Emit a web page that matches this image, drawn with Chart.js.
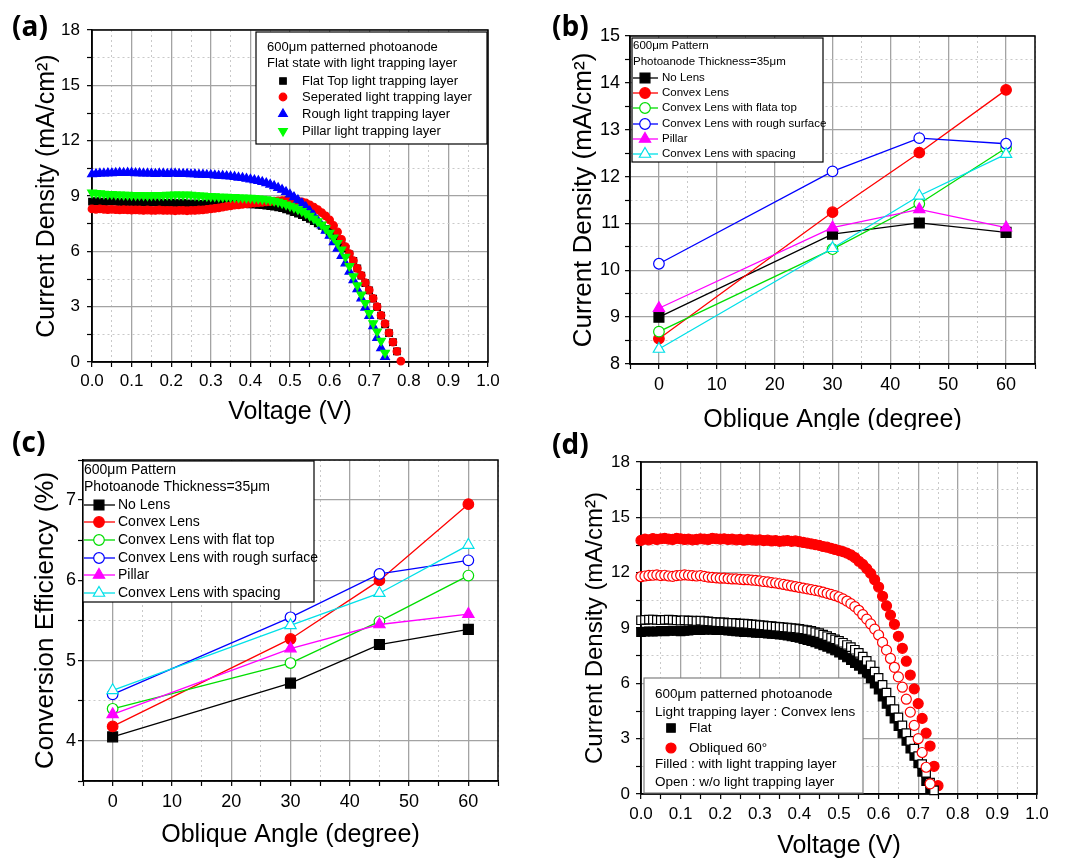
<!DOCTYPE html>
<html>
<head>
<meta charset="utf-8">
<script src="https://cdn.jsdelivr.net/npm/chart.js@4.4.1/dist/chart.umd.min.js"></script>
<style>
  body { margin: 0; background: #fff; }
  #page { position: relative; width: 1083px; height: 860px; overflow: hidden; }
  canvas { position: absolute; }
  .tag { position: absolute; font-family: "Open Sans", sans-serif; font-weight: 700; font-size: 28px; line-height: 1; color: #000; }
</style>
</head>
<body>
<div id="page">
  <canvas id="chartA" width="540" height="430" style="left:0;top:0"></canvas>
  <canvas id="chartB" width="543" height="430" style="left:540px;top:0"></canvas>
  <canvas id="chartC" width="540" height="430" style="left:0;top:430px"></canvas>
  <canvas id="chartD" width="543" height="430" style="left:540px;top:430px"></canvas>
  <div class="tag" style="left:12px;top:11px">(a)</div>
  <div class="tag" style="left:552px;top:11px">(b)</div>
  <div class="tag" style="left:12px;top:427px">(c)</div>
  <div class="tag" style="left:552px;top:429px">(d)</div>
</div>
<script>
const FONT = '"Liberation Sans", Arial, sans-serif';

// ---- data: J-V curves (a) and (d), voltage in V, current density in mA/cm2
const voltage = [0.00, 0.01, 0.02, 0.03, 0.04, 0.05, 0.06, 0.07, 0.08, 0.09,
  0.10, 0.11, 0.12, 0.13, 0.14, 0.15, 0.16, 0.17, 0.18, 0.19,
  0.20, 0.21, 0.22, 0.23, 0.24, 0.25, 0.26, 0.27, 0.28, 0.29,
  0.30, 0.31, 0.32, 0.33, 0.34, 0.35, 0.36, 0.37, 0.38, 0.39,
  0.40, 0.41, 0.42, 0.43, 0.44, 0.45, 0.46, 0.47, 0.48, 0.49,
  0.50, 0.51, 0.52, 0.53, 0.54, 0.55, 0.56, 0.57, 0.58, 0.59,
  0.60, 0.61, 0.62, 0.63, 0.64, 0.65, 0.66, 0.67, 0.68, 0.69,
  0.70, 0.71, 0.72, 0.73, 0.74, 0.75, 0.76, 0.77, 0.78];

const flatTopA = [8.70, 8.72, 8.70, 8.68, 8.70, 8.72, 8.70, 8.68, 8.66, 8.68,
  8.68, 8.66, 8.65, 8.66, 8.64, 8.65, 8.66, 8.64, 8.62, 8.63,
  8.64, 8.62, 8.60, 8.62, 8.60, 8.58, 8.60, 8.58, 8.58, 8.60,
  8.60, 8.62, 8.60, 8.62, 8.62, 8.60, 8.60, 8.58, 8.58, 8.56,
  8.55, 8.54, 8.52, 8.50, 8.48, 8.45, 8.42, 8.38, 8.34, 8.28,
  8.20, 8.12, 8.04, 7.96, 7.86, 7.76, 7.64, 7.52, 7.38, 7.22,
  7.05, 6.85, 6.64, 6.40, 6.14, 5.84, 5.48, 5.08, 4.68, 4.28,
  3.88, 3.44, 2.98, 2.52, 2.04, 1.56, 1.08, 0.58];

const separatedA = [8.30, 8.28, 8.30, 8.28, 8.26, 8.28, 8.26, 8.25, 8.26, 8.25,
  8.24, 8.25, 8.24, 8.22, 8.24, 8.22, 8.22, 8.24, 8.22, 8.22,
  8.22, 8.20, 8.22, 8.22, 8.20, 8.22, 8.22, 8.24, 8.25, 8.28,
  8.30, 8.33, 8.36, 8.40, 8.44, 8.47, 8.50, 8.52, 8.55, 8.57,
  8.60, 8.62, 8.64, 8.66, 8.68, 8.70, 8.72, 8.74, 8.75, 8.76,
  8.76, 8.74, 8.72, 8.68, 8.62, 8.52, 8.40, 8.26, 8.10, 7.92,
  7.70, 7.40, 7.05, 6.65, 6.26, 5.88, 5.50, 5.08, 4.70, 4.30,
  3.90, 3.45, 3.00, 2.53, 2.08, 1.58, 1.08, 0.58, 0.05];

const roughA = [10.18, 10.20, 10.22, 10.22, 10.24, 10.24, 10.25, 10.26, 10.25, 10.26,
  10.26, 10.24, 10.24, 10.22, 10.22, 10.22, 10.20, 10.22, 10.22, 10.20,
  10.22, 10.22, 10.20, 10.20, 10.20, 10.18, 10.18, 10.16, 10.16, 10.14,
  10.14, 10.12, 10.10, 10.10, 10.08, 10.06, 10.04, 10.00, 9.98, 9.94,
  9.90, 9.86, 9.82, 9.76, 9.70, 9.62, 9.54, 9.44, 9.34, 9.22,
  9.08, 8.94, 8.78, 8.60, 8.40, 8.18, 7.94, 7.68, 7.40, 7.12,
  6.85, 6.50, 6.15, 5.75, 5.35, 4.90, 4.44, 3.95, 3.45, 2.95,
  2.50, 1.95, 1.30, 0.75, 0.27];

const pillarA = [9.18, 9.16, 9.14, 9.12, 9.10, 9.10, 9.08, 9.08, 9.06, 9.06,
  9.05, 9.04, 9.05, 9.04, 9.03, 9.04, 9.05, 9.04, 9.05, 9.06,
  9.06, 9.08, 9.08, 9.06, 9.08, 9.06, 9.04, 9.02, 9.02, 9.00,
  8.98, 8.98, 8.96, 8.96, 8.95, 8.94, 8.94, 8.92, 8.92, 8.90,
  8.90, 8.88, 8.86, 8.84, 8.82, 8.78, 8.74, 8.68, 8.62, 8.54,
  8.46, 8.38, 8.28, 8.18, 8.06, 7.92, 7.78, 7.62, 7.45, 7.24,
  7.00, 6.75, 6.45, 6.10, 5.70, 5.20, 4.65, 4.15, 3.65, 3.20,
  2.65, 2.10, 1.65, 1.15, 0.50];

const flatFilledD = [8.78, 8.80, 8.82, 8.80, 8.82, 8.84, 8.82, 8.84, 8.86, 8.84,
  8.82, 8.84, 8.86, 8.88, 8.90, 8.88, 8.90, 8.92, 8.90, 8.88,
  8.90, 8.88, 8.86, 8.84, 8.82, 8.80, 8.78, 8.78, 8.76, 8.74,
  8.74, 8.72, 8.70, 8.68, 8.66, 8.64, 8.62, 8.58, 8.54, 8.50,
  8.46, 8.40, 8.34, 8.28, 8.22, 8.14, 8.06, 7.98, 7.88, 7.78,
  7.66, 7.54, 7.40, 7.26, 7.10, 6.95, 6.75, 6.52, 6.27, 5.98,
  5.66, 5.28, 4.88, 4.48, 4.08, 3.68, 3.28, 2.88, 2.46, 2.06,
  1.66, 1.20, 0.70, 0.30];

const obliqueFilledD = [13.75, 13.82, 13.78, 13.85, 13.80, 13.84, 13.86, 13.82, 13.80, 13.86,
  13.84, 13.80, 13.82, 13.78, 13.80, 13.84, 13.82, 13.80, 13.86, 13.84,
  13.82, 13.84, 13.80, 13.82, 13.78, 13.80, 13.76, 13.80, 13.78, 13.76,
  13.78, 13.74, 13.76, 13.72, 13.74, 13.70, 13.72, 13.74, 13.70, 13.72,
  13.68, 13.64, 13.60, 13.56, 13.52, 13.48, 13.42, 13.38, 13.32, 13.26,
  13.20, 13.14, 13.06, 12.96, 12.82, 12.62, 12.45, 12.22, 11.96, 11.62,
  11.22, 10.72, 10.20, 9.70, 9.20, 8.55, 7.90, 7.20, 6.45, 5.70,
  4.90, 4.10, 3.30, 2.60, 1.50, 0.45];

const flatOpenD = [9.42, 9.44, 9.45, 9.46, 9.44, 9.42, 9.44, 9.45, 9.44, 9.42,
  9.40, 9.42, 9.40, 9.40, 9.38, 9.40, 9.38, 9.36, 9.34, 9.32,
  9.30, 9.30, 9.28, 9.28, 9.26, 9.24, 9.24, 9.22, 9.20, 9.18,
  9.16, 9.14, 9.12, 9.10, 9.08, 9.06, 9.04, 9.02, 9.00, 8.98,
  8.95, 8.92, 8.88, 8.84, 8.78, 8.72, 8.64, 8.56, 8.46, 8.38,
  8.30, 8.20, 8.08, 7.96, 7.82, 7.65, 7.45, 7.22, 6.98, 6.64,
  6.30, 5.92, 5.50, 5.05, 4.60, 4.15, 3.72, 3.30, 2.88, 2.46,
  2.05, 1.62, 1.15, 0.62, 0.20];

const obliqueOpenD = [11.78, 11.82, 11.85, 11.86, 11.88, 11.84, 11.86, 11.82, 11.80, 11.84,
  11.86, 11.88, 11.86, 11.84, 11.82, 11.84, 11.80, 11.76, 11.74, 11.72,
  11.70, 11.70, 11.68, 11.66, 11.66, 11.64, 11.62, 11.62, 11.60, 11.58,
  11.56, 11.52, 11.50, 11.46, 11.44, 11.40, 11.36, 11.32, 11.28, 11.24,
  11.20, 11.16, 11.12, 11.08, 11.04, 11.00, 10.94, 10.88, 10.82, 10.76,
  10.68, 10.58, 10.46, 10.32, 10.16, 9.96, 9.72, 9.48, 9.22, 8.94,
  8.62, 8.22, 7.80, 7.35, 6.87, 6.35, 5.79, 5.14, 4.44, 3.72,
  3.00, 2.25, 1.45, 0.55];

// ---- data: oblique angle (degree) vs Jsc (b) and efficiency (c)
const angles = [0, 30, 45, 60];
const jscNoLens = [9.00, 10.77, 11.01, 10.81];
const jscConvex = [8.54, 11.24, 12.51, 13.85];
const jscFlatTop = [8.69, 10.45, 11.42, 12.61];
const jscRough = [10.14, 12.11, 12.82, 12.70];
const jscPillar = [9.19, 10.91, 11.30, 10.91];
const jscSpacing = [8.32, 10.47, 11.59, 12.48];

const effNoLens = [4.05, 4.72, 5.20, 5.39];
const effConvex = [4.18, 5.27, 6.00, 6.95];
const effFlatTop = [4.40, 4.97, 5.49, 6.06];
const effRough = [4.58, 5.54, 6.08, 6.25];
const effPillar = [4.33, 5.15, 5.45, 5.58];
const effSpacing = [4.63, 5.44, 5.84, 6.44];

const voltTicks = v => Math.round(v * 100) % 10 === 0;
const jTicks = v => Math.round(v * 10) % 30 === 0;
const angleTicks = v => v >= 0 && v <= 60 && v % 10 === 0;
const intTicks = v => Math.abs(v - Math.round(v)) < 1e-6;

function pts(xs, ys) {
  return ys.map((y, i) => ({ x: xs[i], y: y }));
}

function axis(o) {
  const major = o.major;
  const isMaj = c => !c.tick || major(c.tick.value);
  return {
    type: 'linear', min: o.min, max: o.max,
    afterFit(s) { if (s.isHorizontal()) s.height = o.size; else s.width = o.size; },
    ticks: {
      stepSize: o.step, autoSkip: false, maxRotation: 0, minRotation: 0,
      padding: o.pad, color: '#000', font: { family: FONT, size: o.font },
      callback: v => major(v) ? o.fmt(v) : ''
    },
    grid: {
      color: c => isMaj(c) ? '#a3a3a3' : '#c9c9c9',
      lineWidth: c => isMaj(c) ? 1.3 : 1,
      tickColor: '#000', tickLength: 5, tickWidth: 1.2
    },
    border: { color: '#000', width: 1.5, dash: c => isMaj(c) ? [] : [2, 3] },
    title: {
      display: true, text: o.title, color: '#000',
      font: { family: FONT, size: o.titleSize, lineHeight: 1.2 },
      padding: o.titlePad
    }
  };
}

function drawMark(ctx, style, x, y, r, rot, fill, stroke, bw) {
  ctx.save();
  ctx.translate(x, y);
  ctx.rotate((rot || 0) * Math.PI / 180);
  ctx.beginPath();
  if (style === 'rect') {
    const h = r * Math.SQRT1_2;
    ctx.rect(-h, -h, 2 * h, 2 * h);
  } else if (style === 'triangle') {
    for (let k = 0; k < 3; k++) {
      const a = k * 2 * Math.PI / 3;
      if (k) ctx.lineTo(Math.sin(a) * r, -Math.cos(a) * r);
      else ctx.moveTo(Math.sin(a) * r, -Math.cos(a) * r);
    }
    ctx.closePath();
  } else {
    ctx.arc(0, 0, r, 0, 2 * Math.PI);
  }
  ctx.fillStyle = fill;
  ctx.fill();
  if (bw) { ctx.lineWidth = bw; ctx.strokeStyle = stroke; ctx.stroke(); }
  ctx.restore();
}

// box around the plot area
const frame = {
  id: 'frame',
  beforeDatasetsDraw(chart) {
    const a = chart.chartArea, ctx = chart.ctx;
    ctx.save();
    ctx.strokeStyle = '#000';
    ctx.lineWidth = 1.5;
    ctx.strokeRect(a.left, a.top, a.right - a.left, a.bottom - a.top);
    ctx.restore();
  }
};

// legend drawn inside the plot, like the original figure
const boxLegend = {
  id: 'boxLegend',
  afterDraw(chart, args, o) {
    const ctx = chart.ctx;
    ctx.save();
    ctx.fillStyle = '#fff';
    ctx.fillRect(o.x, o.y, o.w, o.h);
    ctx.strokeStyle = o.border;
    ctx.lineWidth = 1.2;
    ctx.strokeRect(o.x, o.y, o.w, o.h);
    ctx.font = o.size + 'px ' + FONT;
    ctx.textBaseline = 'middle';
    ctx.fillStyle = '#000';
    let row = 0;
    o.header.forEach(t => ctx.fillText(t, o.headX, o.rows[row++]));
    o.items.forEach(it => {
      const ds = chart.data.datasets[it.ds];
      const y = o.rows[row++];
      if (o.line) {
        ctx.strokeStyle = ds.borderColor;
        ctx.lineWidth = 1.3;
        ctx.beginPath();
        ctx.moveTo(o.line[0], y);
        ctx.lineTo(o.line[1], y);
        ctx.stroke();
      }
      drawMark(ctx, ds.pointStyle, o.markX, y, ds.pointRadius, ds.pointRotation,
        ds.pointBackgroundColor, ds.pointBorderColor, ds.pointBorderWidth);
      ctx.fillStyle = '#000';
      ctx.fillText(it.text || ds.label, o.textX, y);
    });
    (o.footer || []).forEach(t => ctx.fillText(t, o.headX, o.rows[row++]));
    ctx.restore();
  }
};

function marker(label, data, style, r, fill, stroke, extra) {
  return Object.assign({
    label: label, data: data, pointStyle: style, pointRadius: r,
    pointBackgroundColor: fill, pointBorderColor: stroke, pointBorderWidth: 1.2,
    backgroundColor: fill, borderColor: stroke, borderWidth: 1.3, clip: false
  }, extra || {});
}

function makeChart(id, datasets, padding, scales, legend) {
  return new Chart(document.getElementById(id), {
    type: 'scatter',
    data: { datasets: datasets },
    options: {
      responsive: false, animation: false, devicePixelRatio: 1, events: [],
      layout: { padding: padding },
      scales: scales,
      plugins: { legend: { display: false }, tooltip: { enabled: false }, boxLegend: legend }
    },
    plugins: [frame, boxLegend]
  });
}

const jTitle = 'Current Density (mA/cm\u00B2)';

// (a)
makeChart('chartA', [
  marker('Flat Top light trapping layer', pts(voltage, flatTopA), 'rect', 4.6, '#000', '#000', { order: 4 }),
  marker('Seperated light trapping layer', pts(voltage, separatedA), 'circle', 3.8, '#ff0000', '#ff0000', { order: 3 }),
  marker('Rough light trapping layer', pts(voltage, roughA), 'triangle', 5, '#0000ff', '#0000ff', { order: 2 }),
  marker('Pillar light trapping layer', pts(voltage, pillarA), 'triangle', 5, '#00ff00', '#00ff00', { order: 1, pointRotation: 180 })
], { top: 30, right: 52, left: 0, bottom: 0 }, {
  x: axis({ min: 0, max: 1, step: 0.05, major: voltTicks, fmt: v => v.toFixed(1), size: 68, pad: 4, font: 17,
    title: 'Voltage (V)', titleSize: 25, titlePad: { top: 0, bottom: 3 } }),
  y: axis({ min: 0, max: 18, step: 1.5, major: jTicks, fmt: v => String(v), size: 92, pad: 7, font: 17,
    title: jTitle, titleSize: 25, titlePad: { top: 32, bottom: 0 } })
}, {
  x: 256, y: 32, w: 231, h: 112, border: '#000', size: 13,
  headX: 267, markX: 283, textX: 302, rows: [47, 63, 81, 97, 114, 131],
  header: ['600\u03BCm patterned photoanode', 'Flat state with light trapping layer'],
  items: [{ ds: 0 }, { ds: 1 }, { ds: 2 }, { ds: 3 }]
});

// (b)
makeChart('chartB', [
  marker('No Lens', pts(angles, jscNoLens), 'rect', 7, '#000', '#000', { showLine: true, order: 6 }),
  marker('Convex Lens', pts(angles, jscConvex), 'circle', 5.3, '#ff0000', '#ff0000', { showLine: true, order: 5 }),
  marker('Convex Lens with flata top', pts(angles, jscFlatTop), 'circle', 5.3, '#fff', '#00dd00', { showLine: true, order: 4 }),
  marker('Convex Lens with rough surface', pts(angles, jscRough), 'circle', 5.3, '#fff', '#0000ff', { showLine: true, order: 3 }),
  marker('Pillar', pts(angles, jscPillar), 'triangle', 6.5, '#ff00ff', '#ff00ff', { showLine: true, order: 2 }),
  marker('Convex Lens with spacing', pts(angles, jscSpacing), 'triangle', 6.5, '#fff', '#00e0e8', { showLine: true, order: 1 })
], { top: 36, right: 48, left: 0, bottom: 0 }, {
  x: axis({ min: -5, max: 65, step: 5, major: angleTicks, fmt: v => String(v), size: 66, pad: 5, font: 18,
    title: 'Oblique Angle (degree)', titleSize: 25, titlePad: { top: 0, bottom: -5 } }),
  y: axis({ min: 8, max: 15, step: 0.5, major: intTicks, fmt: v => String(v), size: 90, pad: 5, font: 18,
    title: jTitle, titleSize: 26, titlePad: { top: 28, bottom: 0 } })
}, {
  x: 92, y: 38, w: 191, h: 124, border: '#000', size: 11.5,
  headX: 93, markX: 105, textX: 122, line: [93, 118],
  rows: [46, 62, 78, 93, 108, 124, 139, 154],
  header: ['600\u03BCm Pattern', 'Photoanode Thickness=35\u03BCm'],
  items: [{ ds: 0 }, { ds: 1 }, { ds: 2 }, { ds: 3 }, { ds: 4 }, { ds: 5 }]
});

// (c)
makeChart('chartC', [
  marker('No Lens', pts(angles, effNoLens), 'rect', 7, '#000', '#000', { showLine: true, order: 6 }),
  marker('Convex Lens', pts(angles, effConvex), 'circle', 5.3, '#ff0000', '#ff0000', { showLine: true, order: 5 }),
  marker('Convex Lens with flat top', pts(angles, effFlatTop), 'circle', 5.3, '#fff', '#00dd00', { showLine: true, order: 4 }),
  marker('Convex Lens with rough surface', pts(angles, effRough), 'circle', 5.3, '#fff', '#0000ff', { showLine: true, order: 3 }),
  marker('Pillar', pts(angles, effPillar), 'triangle', 6.5, '#ff00ff', '#ff00ff', { showLine: true, order: 2 }),
  marker('Convex Lens with spacing', pts(angles, effSpacing), 'triangle', 6.5, '#fff', '#00e0e8', { showLine: true, order: 1 })
], { top: 30, right: 42, left: 0, bottom: 0 }, {
  x: axis({ min: -5, max: 65, step: 5, major: angleTicks, fmt: v => String(v), size: 79, pad: 5, font: 18,
    title: 'Oblique Angle (degree)', titleSize: 25, titlePad: { top: 0, bottom: 10 } }),
  y: axis({ min: 3.5, max: 7.5, step: 0.5, major: intTicks, fmt: v => String(v), size: 83, pad: 2, font: 18,
    title: 'Conversion Efficiency (%)', titleSize: 26, titlePad: { top: 30, bottom: 0 } })
}, {
  x: 83, y: 31, w: 231, h: 141, border: '#000', size: 14,
  headX: 84, markX: 99, textX: 118, line: [84, 115],
  rows: [40, 57, 75, 92, 110, 128, 145, 163],
  header: ['600\u03BCm Pattern', 'Photoanode Thickness=35\u03BCm'],
  items: [{ ds: 0 }, { ds: 1 }, { ds: 2 }, { ds: 3 }, { ds: 4 }, { ds: 5 }]
});

// (d)
makeChart('chartD', [
  marker('Flat', pts(voltage, flatFilledD), 'rect', 6, '#000', '#000', { order: 4 }),
  marker('Obliqued 60\u00B0', pts(voltage, obliqueFilledD), 'circle', 5, '#ff0000', '#ff0000', { order: 3 }),
  marker('Flat (open)', pts(voltage, flatOpenD), 'rect', 6, '#fff', '#000', { order: 2 }),
  marker('Obliqued 60\u00B0 (open)', pts(voltage, obliqueOpenD), 'circle', 5, '#fff', '#ff0000', { order: 1 })
], { top: 32, right: 46, left: 0, bottom: 0 }, {
  x: axis({ min: 0, max: 1, step: 0.05, major: voltTicks, fmt: v => v.toFixed(1), size: 66, pad: 5, font: 17,
    title: 'Voltage (V)', titleSize: 25, titlePad: { top: 0, bottom: -1 } }),
  y: axis({ min: 0, max: 18, step: 1.5, major: jTicks, fmt: v => String(v), size: 101, pad: 6, font: 17,
    title: jTitle, titleSize: 24, titlePad: { top: 41, bottom: 0 } })
}, {
  x: 104, y: 248, w: 219, h: 115, border: '#808080', size: 13.5,
  headX: 115, markX: 131, textX: 149, rows: [264, 282, 298, 318, 334, 352],
  header: ['600\u03BCm patterned photoanode', 'Light trapping layer : Convex lens'],
  items: [{ ds: 0, text: 'Flat' }, { ds: 1, text: 'Obliqued 60\u00B0' }],
  footer: ['Filled : with light trapping layer', 'Open : w/o light trapping layer']
});
</script>
</body>
</html>
